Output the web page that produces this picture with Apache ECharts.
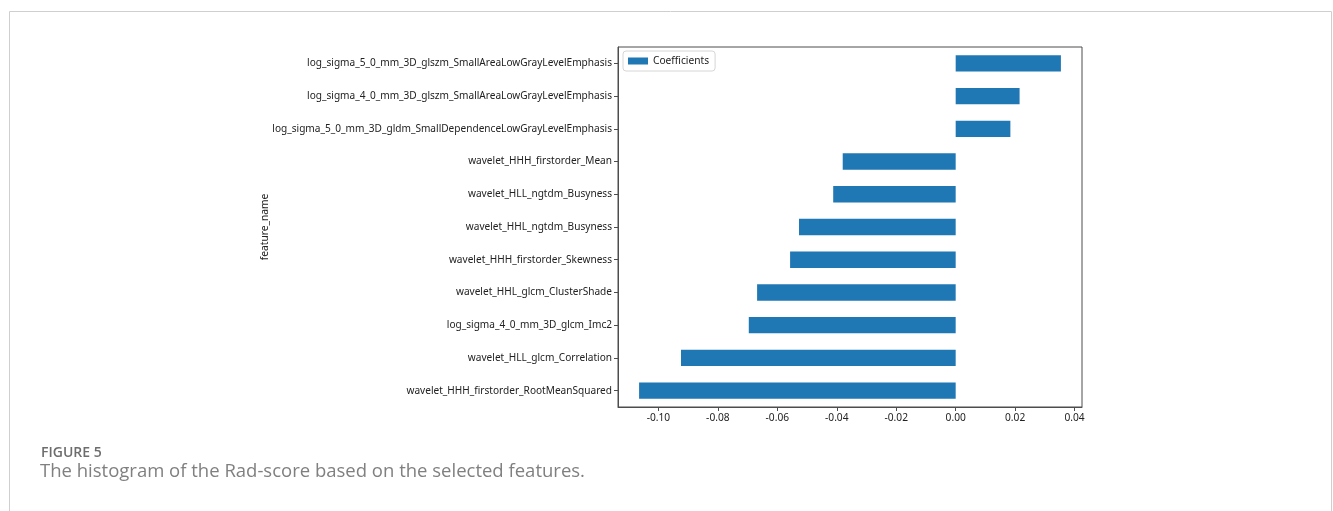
<!DOCTYPE html>
<html>
<head>
<meta charset="utf-8">
<script src="https://cdn.jsdelivr.net/npm/echarts@6/dist/echarts.min.js"></script>
<style>
  html, body { margin: 0; padding: 0; background: #fff; }
  #chart { width: 1333px; height: 511px; }
</style>
</head>
<body>
<div id="chart"></div>
<script>
// Selected radiomic features, listed top to bottom
const features = [
  'log_sigma_5_0_mm_3D_glszm_SmallAreaLowGrayLevelEmphasis',
  'log_sigma_4_0_mm_3D_glszm_SmallAreaLowGrayLevelEmphasis',
  'log_sigma_5_0_mm_3D_gldm_SmallDependenceLowGrayLevelEmphasis',
  'wavelet_HHH_firstorder_Mean',
  'wavelet_HLL_ngtdm_Busyness',
  'wavelet_HHL_ngtdm_Busyness',
  'wavelet_HHH_firstorder_Skewness',
  'wavelet_HHL_glcm_ClusterShade',
  'log_sigma_4_0_mm_3D_glcm_Imc2',
  'wavelet_HLL_glcm_Correlation',
  'wavelet_HHH_firstorder_RootMeanSquared'
];

// Model coefficient of each feature
const coefficients = [
  0.0354, 0.0215, 0.0184, -0.0380, -0.0412, -0.0527,
  -0.0557, -0.0668, -0.0696, -0.0924, -0.1065
];

// Tick positions on the coefficient axis
const xTicks = [-0.10, -0.08, -0.06, -0.04, -0.02, 0.00, 0.02, 0.04];

const chart = echarts.init(document.getElementById('chart'), null, { renderer: 'canvas' });

// Axis range padded by 5% of the data span on both sides
const dMin = Math.min(0, ...coefficients);
const dMax = Math.max(0, ...coefficients);
const pad = (dMax - dMin) * 0.05;

const labelFont = '"Noto Sans", "DejaVu Sans", sans-serif';
const captionFont = '"Open Sans", "Noto Sans", sans-serif';

chart.setOption({
  backgroundColor: '#ffffff',
  animation: false,
  grid: {
    left: 618, top: 47, width: 464, height: 360,
    show: true, borderColor: '#4d4d4d', borderWidth: 1,
    containLabel: false
  },
  legend: {
    show: true,
    data: ['Coefficients'],
    left: 623, top: 51,
    orient: 'vertical',
    itemWidth: 20, itemHeight: 7,
    padding: [5, 6, 5, 5],
    borderColor: '#d6d6d6', borderWidth: 1, borderRadius: 3,
    backgroundColor: '#ffffff',
    textStyle: { fontFamily: labelFont, fontSize: 10.2, color: '#222' },
    icon: 'rect'
  },
  xAxis: {
    type: 'value',
    min: dMin - pad,
    max: dMax + pad,
    splitLine: { show: false },
    axisLine: { show: true, onZero: false, lineStyle: { color: '#4d4d4d', width: 1 } },
    axisTick: { show: true, customValues: xTicks, length: 4, lineStyle: { color: '#4d4d4d' } },
    axisLabel: {
      customValues: xTicks,
      margin: 6,
      fontFamily: labelFont, fontSize: 10.2, color: '#222',
      formatter: v => v.toFixed(2)
    }
  },
  yAxis: {
    type: 'category',
    data: features,
    inverse: true,
    name: 'feature_name',
    nameLocation: 'middle',
    nameMoveOverlap: false,
    nameGap: 348,
    nameRotate: 90,
    nameTextStyle: { fontFamily: labelFont, fontSize: 10.2, color: '#222' },
    axisLine: { show: true, onZero: false, lineStyle: { color: '#4d4d4d', width: 1 } },
    axisTick: { show: true, alignWithLabel: true, length: 4, lineStyle: { color: '#4d4d4d' } },
    axisLabel: { margin: 6, fontFamily: labelFont, fontSize: 10.1, color: '#222' },
    splitLine: { show: false }
  },
  series: [{
    name: 'Coefficients',
    type: 'bar',
    data: coefficients,
    barWidth: '50%',
    itemStyle: { color: '#1f77b4' }
  }],
  graphic: [
    {
      type: 'rect',
      left: 7, top: 9,
      shape: { x: 0.5, y: 0.5, width: 1322, height: 520 },
      style: { fill: 'none', stroke: '#cfcfcf', lineWidth: 1 },
      silent: true, z: -1
    },
    {
      type: 'text',
      left: 41, top: 446,
      style: {
        text: 'FIGURE 5',
        fontFamily: captionFont,
        fontSize: 14, fontWeight: 600, fill: '#6d6d6d'
      }
    },
    {
      type: 'text',
      left: 40, top: 462,
      style: {
        text: 'The histogram of the Rad-score based on the selected features.',
        fontFamily: captionFont,
        fontSize: 18.5, fill: '#808080'
      }
    }
  ]
});
</script>
</body>
</html>
